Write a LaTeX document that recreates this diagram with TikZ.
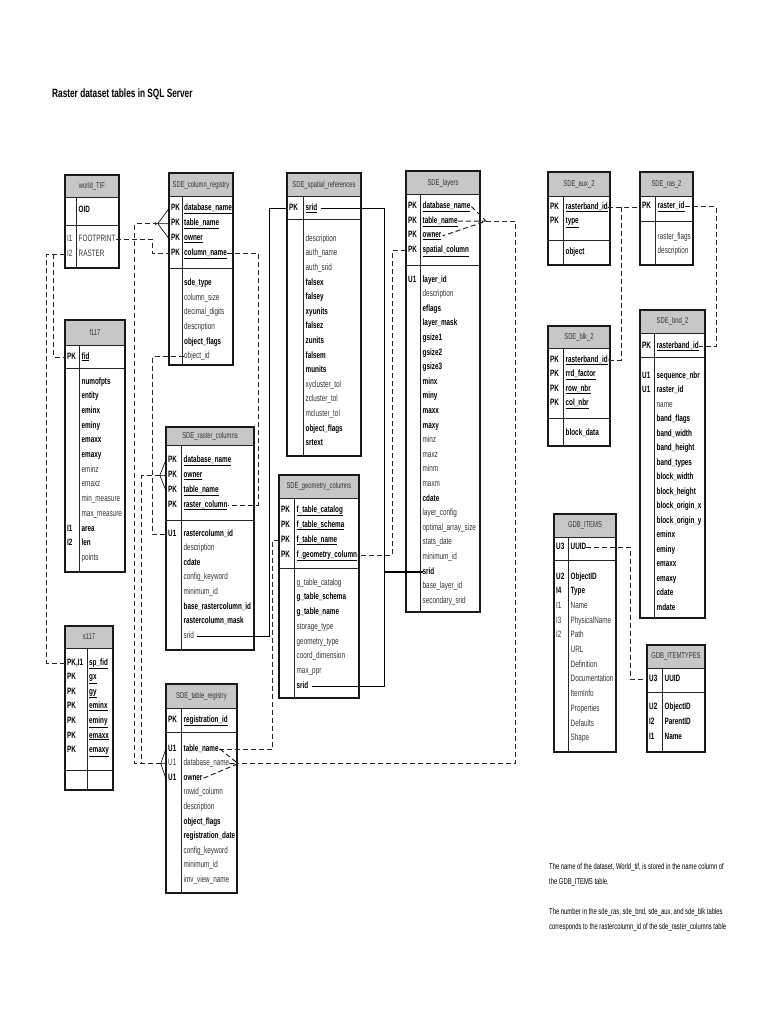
\documentclass[tikz,border=0pt]{standalone}
\usepackage{fontspec}
\setmainfont{Liberation Sans}[FakeStretch=0.69]
\usetikzlibrary{arrows.meta}
\newcommand{\tblfont}{\fontsize{9.2}{10}\selectfont}
% one table: name, title, left, top, right, header bottom, key bottom, bottom, column rule
\newcommand{\ertable}[9]{%
  \node[hdr, minimum width={(#5-#3)*1pt}, minimum height={(#6-#4)*1pt}] (#1) at ({(#3+#5)/2},{(#4+#6)/2}) {#2};
  \draw[sepline] (#3,#6) -- (#5,#6) (#3,#7) -- (#5,#7) (#9,#6) -- (#9,#8);
  \draw[tblline] (#3,#4) rectangle (#5,#8);
}
\tikzset{
  hdr/.style={fill=black!22, inner sep=0pt, font=\fontsize{8.5}{10}\selectfont, text=black!80},
  tblline/.style={draw=black!90, line width=1.5pt},
  sepline/.style={draw=black!85, line width=1pt},
  fld/.style={anchor=west, inner sep=0pt, text height=6pt, text depth=2pt, font=\tblfont},
  fbold/.style={font=\tblfont\bfseries, text=black},
  fplain/.style={font=\tblfont, text=black!80},
  rel/.style={dash pattern=on 5pt off 3pt, line width=1pt, black!85},
  srl/.style={line width=1.2pt},
  fork/.style={line width=0.6pt},
  tip/.style={-{Stealth[length=3pt, width=3pt]}},
  ttl/.style={anchor=base west, inner sep=0pt, font=\fontsize{12}{14}\selectfont\bfseries},
  note/.style={anchor=north west, inner sep=0pt, align=left, font=\fontsize{8.5}{15}\selectfont}
}

\begin{document}
\begin{tikzpicture}[x=1pt, y=-1pt]
  \useasboundingbox (0,0) rectangle (768,1024);
  \node[ttl] (title) at (52,97.5) {Raster dataset tables in SQL Server};

  % world_TIF
  \ertable{wtif}{world\_TIF}{65}{175}{119}{198}{226}{268}{76}
  \node[fld,fbold] (wtif-p1) at (78.5,211) {OID};
  \foreach \k/\t [count=\i] in {I1/FOOTPRINT, I2/RASTER} {
    \node[fld,fplain] (wtif-k\i) at (67,{225.5+14.3*\i}) {\k};
    \node[fld,fplain] (wtif-\i) at (78.5,{225.5+14.3*\i}) {\t};
  }

  % f117
  \ertable{f117}{f117}{65}{320}{125}{345}{368}{572}{79}
  \node[fld,fbold] (f117-k1) at (67,357) {PK};
  \node[fld,fbold] (f117-p1) at (81.5,357) {\underline{fid}};
  \foreach \s/\t [count=\i] in {fbold/numofpts, fbold/entity, fbold/eminx, fbold/eminy, fbold/emaxx, fbold/emaxy, fplain/eminz, fplain/emaxz, fplain/min\_measure, fplain/max\_measure, fbold/area, fbold/len, fplain/points}
    \node[fld,\s] (f117-\i) at (81.5,{367.3+14.7*\i}) {\t};
  \node[fld,fbold] (f117-k2) at (67,{367.3+14.7*11}) {I1};
  \node[fld,fbold] (f117-k3) at (67,{367.3+14.7*12}) {I2};

  % s117
  \ertable{s117}{s117}{65}{626}{113}{648}{770}{790}{87}
  \foreach \k/\t [count=\i] in {{PK,I1}/sp\_fid, PK/gx, PK/gy, PK/eminx, PK/eminy, PK/emaxx, PK/emaxy} {
    \node[fld,fbold] (s117-k\i) at (67,{648.4+14.6*\i}) {\k};
    \node[fld,fbold] (s117-p\i) at (89,{648.4+14.6*\i}) {\underline{\t}};
  }

  % SDE_column_registry
  \ertable{colreg}{SDE\_column\_registry}{169}{173}{233}{197}{268}{365}{182}
  \foreach \t [count=\i] in {database\_name, table\_name, owner, column\_name} {
    \node[fld,fbold] (colreg-k\i) at (171,{194+14.8*\i}) {PK};
    \node[fld,fbold] (colreg-p\i) at (184,{194+14.8*\i}) {\underline{\t}};
  }
  \foreach \s/\t [count=\i] in {fbold/sde\_type, fplain/column\_size, fplain/decimal\_digits, fplain/description, fbold/object\_flags, fplain/object\_id}
    \node[fld,\s] (colreg-\i) at (184,{268.6+14.7*\i}) {\t};

  % SDE_spatial_references
  \ertable{spref}{SDE\_spatial\_references}{287}{173}{361}{197}{220}{456}{303}
  \node[fld,fbold] (spref-k1) at (289,208.5) {PK};
  \node[fld,fbold] (spref-p1) at (305.5,208.5) {\underline{srid}};
  \foreach \s/\t [count=\i] in {fplain/description, fplain/auth\_name, fplain/auth\_srid, fbold/falsex, fbold/falsey, fbold/xyunits, fbold/falsez, fbold/zunits, fbold/falsem, fbold/munits, fplain/xycluster\_tol, fplain/zcluster\_tol, fplain/mcluster\_tol, fbold/object\_flags, fbold/srtext}
    \node[fld,\s] (spref-\i) at (305.5,{224.6+14.6*\i}) {\t};

  % SDE_layers
  \ertable{layers}{SDE\_layers}{406}{171}{480}{195}{265}{612}{420}
  \foreach \t [count=\i] in {database\_name, table\_name, owner, spatial\_column} {
    \node[fld,fbold] (layers-k\i) at (408,{192+14.6*\i}) {PK};
    \node[fld,fbold] (layers-p\i) at (422.5,{192+14.6*\i}) {\underline{\t}};
  }
  \node[fld,fbold] (layers-k5) at (408,280) {U1};
  \foreach \s/\t [count=\i] in {fbold/layer\_id, fplain/description, fbold/eflags, fbold/layer\_mask, fbold/gsize1, fbold/gsize2, fbold/gsize3, fbold/minx, fbold/miny, fbold/maxx, fbold/maxy, fplain/minz, fplain/maxz, fplain/minm, fplain/maxm, fbold/cdate, fplain/layer\_config, fplain/optimal\_array\_size, fplain/stats\_date, fplain/minimum\_id, fbold/srid, fplain/base\_layer\_id, fplain/secondary\_srid}
    \node[fld,\s] (layers-\i) at (422.5,{265.4+14.6*\i}) {\t};

  % SDE_aux_2, SDE_ras_2
  \ertable{aux2}{SDE\_aux\_2}{548}{172}{610}{197}{240}{265}{563}
  \foreach \t [count=\i] in {rasterband\_id, type} {
    \node[fld,fbold] (aux2-k\i) at (550,{192.5+14.6*\i}) {PK};
    \node[fld,fbold] (aux2-p\i) at (565.5,{192.5+14.6*\i}) {\underline{\t}};
  }
  \node[fld,fbold] (aux2-1) at (565.5,252) {object};
  \ertable{ras2}{SDE\_ras\_2}{640}{172}{693}{197}{222}{265}{655}
  \node[fld,fbold] (ras2-k1) at (642,207) {PK};
  \node[fld,fbold] (ras2-p1) at (657.5,207) {\underline{raster\_id}};
  \node[fld,fplain] (ras2-1) at (657.5,237.5) {raster\_flags};
  \node[fld,fplain] (ras2-2) at (657.5,251) {description};

  % SDE_blk_2
  \ertable{blk2}{SDE\_blk\_2}{548}{326}{610}{348}{418}{446}{563}
  \foreach \t [count=\i] in {rasterband\_id, rrd\_factor, row\_nbr, col\_nbr} {
    \node[fld,fbold] (blk2-k\i) at (550,{345.5+14.5*\i}) {PK};
    \node[fld,fbold] (blk2-p\i) at (565.5,{345.5+14.5*\i}) {\underline{\t}};
  }
  \node[fld,fbold] (blk2-1) at (565.5,433) {block\_data};

  % SDE_bnd_2
  \ertable{bnd2}{SDE\_bnd\_2}{640}{310}{705}{333}{357}{618}{654}
  \node[fld,fbold] (bnd2-k1) at (642,346) {PK};
  \node[fld,fbold] (bnd2-p1) at (656.5,346) {\underline{rasterband\_id}};
  \node[fld,fbold] (bnd2-k2) at (642,376) {U1};
  \node[fld,fbold] (bnd2-k3) at (642,390.5) {U1};
  \foreach \s/\t [count=\i] in {fbold/sequence\_nbr, fbold/raster\_id, fplain/name, fbold/band\_flags, fbold/band\_width, fbold/band\_height, fbold/band\_types, fbold/block\_width, fbold/block\_height, fbold/block\_origin\_x, fbold/block\_origin\_y, fbold/eminx, fbold/eminy, fbold/emaxx, fbold/emaxy, fbold/cdate, fbold/mdate}
    \node[fld,\s] (bnd2-\i) at (656.5,{361.5+14.5*\i}) {\t};

  % SDE_raster_columns
  \ertable{rascol}{SDE\_raster\_columns}{166}{427}{254}{445}{520}{650}{181}
  \foreach \t [count=\i] in {database\_name, owner, table\_name, raster\_column} {
    \node[fld,fbold] (rascol-k\i) at (168,{445.5+14.9*\i}) {PK};
    \node[fld,fbold] (rascol-p\i) at (183.5,{445.5+14.9*\i}) {\underline{\t}};
  }
  \node[fld,fbold] (rascol-k5) at (168,534) {U1};
  \foreach \s/\t [count=\i] in {fbold/rastercolumn\_id, fplain/description, fbold/cdate, fplain/config\_keyword, fplain/minimum\_id, fbold/base\_rastercolumn\_id, fbold/rastercolumn\_mask, fplain/srid}
    \node[fld,\s] (rascol-\i) at (183.5,{519.4+14.6*\i}) {\t};

  % SDE_geometry_columns
  \ertable{geocol}{SDE\_geometry\_columns}{279}{475}{359}{498}{568}{698}{294}
  \foreach \t [count=\i] in {f\_table\_catalog, f\_table\_schema, f\_table\_name, f\_geometry\_column} {
    \node[fld,fbold] (geocol-k\i) at (281,{495+15*\i}) {PK};
    \node[fld,fbold] (geocol-p\i) at (296.5,{495+15*\i}) {\underline{\t}};
  }
  \foreach \s/\t [count=\i] in {fplain/g\_table\_catalog, fbold/g\_table\_schema, fbold/g\_table\_name, fplain/storage\_type, fplain/geometry\_type, fplain/coord\_dimension, fplain/max\_ppr, fbold/srid}
    \node[fld,\s] (geocol-\i) at (296.5,{568.5+14.7*\i}) {\t};

  % SDE_table_registry
  \ertable{tabreg}{SDE\_table\_registry}{166}{684}{237}{708}{732}{893}{181}
  \node[fld,fbold] (tabreg-k0) at (168,720) {PK};
  \node[fld,fbold] (tabreg-p1) at (183.5,720) {\underline{registration\_id}};
  \foreach \s [count=\i] in {fbold, fplain, fbold}
    \node[fld,\s] (tabreg-k\i) at (168,{734.4+14.6*\i}) {U1};
  \foreach \s/\t [count=\i] in {fbold/table\_name, fplain/database\_name, fbold/owner, fplain/rowid\_column, fplain/description, fbold/object\_flags, fbold/registration\_date, fplain/config\_keyword, fplain/minimum\_id, fplain/imv\_view\_name}
    \node[fld,\s] (tabreg-\i) at (183.5,{734.4+14.6*\i}) {\t};

  % GDB_ITEMS, GDB_ITEMTYPES
  \ertable{gdbi}{GDB\_ITEMS}{554}{514}{616}{537}{560}{752}{568}
  \node[fld,fbold] (gdbi-k0) at (556,547) {U3};
  \node[fld,fbold] (gdbi-p1) at (570.5,547) {UUID};
  \foreach \s/\k [count=\i] in {fbold/U2, fbold/I4, fplain/I1, fplain/I3, fplain/I2}
    \node[fld,\s] (gdbi-k\i) at (556,{562.3+14.7*\i}) {\k};
  \foreach \s/\t [count=\i] in {fbold/ObjectID, fbold/Type, fplain/Name, fplain/PhysicalName, fplain/Path, fplain/URL, fplain/Definition, fplain/Documentation, fplain/ItemInfo, fplain/Properties, fplain/Defaults, fplain/Shape}
    \node[fld,\s] (gdbi-\i) at (570.5,{562.3+14.7*\i}) {\t};
  \ertable{gdbt}{GDB\_ITEMTYPES}{647}{645}{705}{668}{692}{752}{662}
  \node[fld,fbold] (gdbt-k0) at (649,679) {U3};
  \node[fld,fbold] (gdbt-p1) at (664.5,679) {UUID};
  \foreach \k/\t [count=\i] in {U2/ObjectID, I2/ParentID, I1/Name} {
    \node[fld,fbold] (gdbt-k\i) at (649,{692+15*\i}) {\k};
    \node[fld,fbold] (gdbt-\i) at (664.5,{692+15*\i}) {\t};
  }

  % notes
  \node[note] (note1) at (549,862.8) {The name of the dataset, World\_tif, is stored in the name column of\\the GDB\_ITEMS table.};
  \node[note] (note2) at (549,907.8) {The number in the sde\_ras, sde\_bnd, sde\_aux, and sde\_blk tables\\corresponds to the rastercolumn\_id of the sde\_raster\_columns table};

  % fork points
  \coordinate (crf) at ([xshift=-11pt]colreg.west |- colreg-p2);
  \coordinate (rcf) at ([xshift=-6pt]rascol.west |- rascol-p2);
  \coordinate (trf) at ([xshift=-5pt]tabreg.west |- tabreg-2);
  \coordinate (rrf) at ([xshift=1pt]tabreg.east |- tabreg-2);
  \coordinate (lyf) at ([xshift=6pt]layers.east |- layers-p2);
  \draw[fork] (colreg.west |- colreg-p1) -- (crf) -- (colreg.west |- colreg-p3) (crf) -- (colreg.west |- colreg-p2);
  \draw[fork] (rascol.west |- rascol-p1) -- (rcf) -- (rascol.west |- rascol-p3) (rcf) -- (rascol.west |- rascol-p2);
  \draw[fork] (tabreg.west |- tabreg-1) -- (trf) -- (tabreg.west |- tabreg-3) (trf) -- (tabreg.west |- tabreg-2);
  \draw[rel] ([xshift=1pt]tabreg-1.east) -- (rrf) -- ([xshift=1pt]tabreg-3.east) (tabreg-2.east) -- (rrf);
  \draw[rel] ([xshift=1pt]layers-p1.east) -- (lyf) -- ([xshift=1pt]layers-p3.east) (layers-p2.east) -- (lyf);

  % dashed links
  \draw[rel] (wtif.west |- wtif-2) -| ([xshift=-18pt]s117.west |- s117-p1) -- (s117.west |- s117-p1);
  \draw[rel] ([xshift=-11pt]wtif.west |- wtif-2) |- (f117.west |- f117-p1);
  \draw[rel] (wtif-1.east) -| ([xshift=-16pt]colreg.west |- colreg-p4) -- (colreg.west |- colreg-p4);
  \draw[rel,tip] (trf) -| ([xshift=-23pt]crf) -- (crf);
  \draw[rel] (trf) -| ([xshift=-18pt]rcf) -- (rcf);
  \draw[rel] (colreg-6.west) -| ([xshift=-13pt]rascol.west |- rascol-1) -- (rascol.west |- rascol-1);
  \draw[rel] (colreg-p4.east) -| ([xshift=4pt]rascol.east |- rascol-p4) -- (rascol-p4.east);
  \draw[rel,tip] (layers.west |- layers-p4) -| ([xshift=-13pt]layers.west |- geocol-p4) -- (geocol-p4.east);
  \draw[rel] (geocol.west |- geocol-p3) -| ([xshift=-6pt]geocol.west |- tabreg-1) -- (tabreg-1.east);
  \draw[rel] (lyf) -| ([xshift=35pt]layers.east |- tabreg-2) -- (rrf);
  \draw[rel] (aux2-p1.east) -- (ras2.west |- aux2-p1);
  \draw[rel,tip] ([xshift=11pt]aux2.east |- aux2-p1) |- (blk2-p1.east);
  \draw[rel] (ras2-p1.east) -| ([xshift=11pt]bnd2.east |- bnd2-p1) -- (bnd2-p1.east);
  \draw[rel] (gdbi-p1.east) -| ([xshift=-16pt]gdbt.west |- gdbt-p1) -- (gdbt.west |- gdbt-p1);

  % srid links
  \draw[srl] (spref.west |- spref-p1) -| ([xshift=-17pt]spref.west |- rascol-8) -- ([xshift=3pt]rascol-8.east);
  \draw[srl] ([xshift=3pt]spref-p1.east) -| ([xshift=23pt]spref.east |- geocol-8) -- ([xshift=3pt]geocol-8.east);
  \draw[srl] ([xshift=23pt]spref.east |- layers-21) -- (layers-21.west);
\end{tikzpicture}
\end{document}
